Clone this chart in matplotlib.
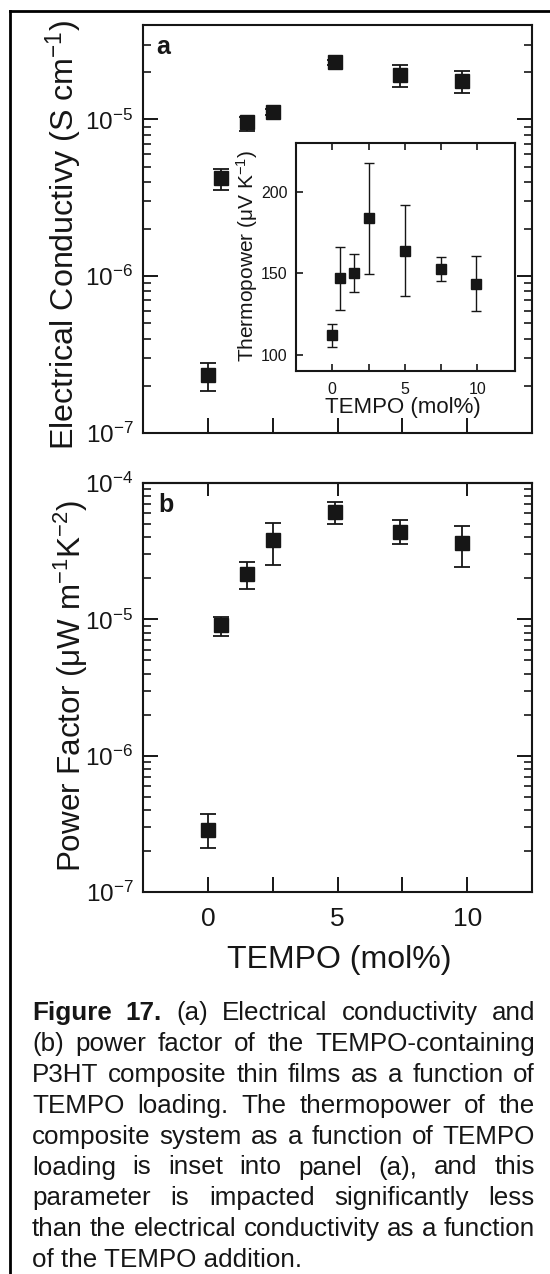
import matplotlib
matplotlib.use("Agg")
import matplotlib.pyplot as plt
from matplotlib.lines import Line2D
from matplotlib.ticker import LogLocator, FixedLocator, NullFormatter, LogFormatterMathtext, NullLocator, FixedFormatter

plt.rcParams['font.family'] = ['Liberation Sans', 'DejaVu Sans']
plt.rcParams['mathtext.fontset'] = 'custom'
plt.rcParams['mathtext.rm'] = 'Liberation Sans'
plt.rcParams['mathtext.it'] = 'Liberation Sans:italic'
plt.rcParams['mathtext.bf'] = 'Liberation Sans:bold'
plt.rcParams['axes.unicode_minus'] = False

# ---------------- data ----------------
tempo = [0, 0.5, 1.5, 2.5, 4.9, 7.4, 9.8]

cond = [2.35e-7, 4.26e-6, 9.57e-6, 1.12e-5, 2.31e-5, 1.91e-5, 1.75e-5]
cond_hi = [2.80e-7, 4.86e-6, 1.03e-5, 1.17e-5, 2.40e-5, 2.21e-5, 2.03e-5]
cond_lo = [1.86e-7, 3.57e-6, 8.40e-6, 1.07e-5, 2.22e-5, 1.60e-5, 1.47e-5]

pf = [2.84e-7, 9.08e-6, 2.15e-5, 3.82e-5, 6.12e-5, 4.37e-5, 3.63e-5]
pf_hi = [3.72e-7, 1.04e-5, 2.63e-5, 5.09e-5, 7.26e-5, 5.35e-5, 4.84e-5]
pf_lo = [2.10e-7, 7.55e-6, 1.67e-5, 2.51e-5, 5.00e-5, 3.56e-5, 2.42e-5]

tempo_inset = [0, 0.5, 1.5, 2.5, 5.0, 7.5, 9.9]
thermo = [111.9, 146.8, 150.4, 184.0, 163.9, 152.9, 143.7]
thermo_hi = [118.6, 166.3, 162.0, 217.7, 192.0, 160.2, 160.8]
thermo_lo = [104.5, 127.2, 138.8, 149.8, 135.8, 145.5, 126.6]

x_ticks = [0, 2.5, 5, 7.5, 10]
x_ticklabels = ["0", "", "5", "", "10"]
inset_yticks = [100, 150, 200]

caption_bold = ["Figure", "17."]
caption_lines = [
    "(a) Electrical conductivity and",
    "(b) power factor of the TEMPO-containing",
    "P3HT composite thin films as a function of",
    "TEMPO loading. The thermopower of the",
    "composite system as a function of TEMPO",
    "loading is inset into panel (a), and this",
    "parameter is impacted significantly less",
    "than the electrical conductivity as a function",
    "of the TEMPO addition.",
]

# ---------------- figure ----------------
W, H = 550, 1274
fig = plt.figure(figsize=(W / 100, H / 100), dpi=100)
fig.patch.set_facecolor('white')
INK = '#161616'


def fbox(l, t, r, b):
    return [l / W, 1 - b / H, (r - l) / W, (b - t) / H]


def err(v, hi, lo):
    return [[a - c for a, c in zip(v, lo)], [c - a for a, c in zip(v, hi)]]


def style_log_axis(ax, ylim):
    ax.set_yscale('log')
    ax.set_ylim(*ylim)
    ax.set_xlim(-2.5, 12.5)
    ax.yaxis.set_major_locator(LogLocator(base=10, numticks=20))
    ax.yaxis.set_minor_locator(LogLocator(base=10, subs=range(2, 10), numticks=20))
    ax.yaxis.set_major_formatter(LogFormatterMathtext())
    ax.yaxis.set_minor_formatter(NullFormatter())
    ax.xaxis.set_major_locator(FixedLocator(x_ticks))
    ax.xaxis.set_minor_locator(NullLocator())
    for s in ax.spines.values():
        s.set_linewidth(1.5)
        s.set_color(INK)
    ax.tick_params(axis='y', which='major', direction='in', left=True, right=True,
                   length=11, width=1.4, labelsize=17.5, pad=7, colors=INK)
    ax.tick_params(axis='y', which='minor', direction='in', left=True, right=True,
                   length=6, width=1.2, colors=INK)
    ax.tick_params(axis='x', which='major', direction='in', bottom=True, top=False,
                   length=11, width=1.4, labelsize=19, pad=11, colors=INK)


mk = dict(fmt='s', color=INK, ecolor=INK, markersize=10, capsize=5.5,
          elinewidth=1.3, capthick=1.3, zorder=3)

# panel a
axa = fig.add_axes(fbox(143, 25, 532, 433))
axa.errorbar(tempo, cond, yerr=err(cond, cond_hi, cond_lo), **mk)
style_log_axis(axa, (1e-7, 4e-5))
axa.set_xticklabels([])
axa.text(0.035, 0.93, "a", transform=axa.transAxes, fontsize=18, fontweight='bold',
         ha='left', va='baseline', color=INK)

# panel b
axb = fig.add_axes(fbox(143, 483, 532, 892))
axb.errorbar(tempo, pf, yerr=err(pf, pf_hi, pf_lo), **mk)
style_log_axis(axb, (1e-7, 1e-4))
axb.xaxis.set_major_formatter(FixedFormatter(x_ticklabels))
axb.text(0.04, 0.93, "b", transform=axb.transAxes, fontsize=18, fontweight='bold',
         ha='left', va='baseline', color=INK)
# top ticks of panel b at 0, 5, 10
axb_top = axb.secondary_xaxis('top')
axb_top.set_xticks([0, 5, 10])
axb_top.set_xticklabels([])
axb_top.tick_params(direction='in', length=9, width=1.4, colors=INK)
axb_top.spines['top'].set_linewidth(1.5)

# inset
axi = fig.add_axes(fbox(296, 143, 515, 371))
axi.errorbar(tempo_inset, thermo, yerr=err(thermo, thermo_hi, thermo_lo), fmt='s',
             color=INK, ecolor=INK, markersize=6.5, capsize=3.3, elinewidth=1.0,
             capthick=1.0, zorder=3)
axi.set_xlim(-2.5, 12.6)
axi.set_ylim(90, 230)
axi.set_xticks(x_ticks)
axi.set_xticklabels(x_ticklabels)
axi.set_yticks(inset_yticks)
for s in axi.spines.values():
    s.set_linewidth(1.5)
    s.set_color(INK)
axi.tick_params(axis='both', direction='in', length=5, width=1.2, labelsize=11.5,
                colors=INK, top=True, bottom=True, left=True, right=False)
axi.tick_params(axis='x', pad=8)
axi.tick_params(axis='y', pad=6)
fig.text(403 / W, 1 - 413 / H, "TEMPO (mol%)", fontsize=16, ha='center', va='baseline',
         color=INK)
fig.text(254 / W, 1 - 256 / H, "Thermopower (\u03bcV K$^{-1}$)", fontsize=15,
         rotation=90, rotation_mode='anchor', ha='center', va='baseline', color=INK)

# main axis labels
fig.text(74 / W, 1 - 235 / H, "Electrical Conductivy (S cm$^{-1}$)", fontsize=23.2,
         rotation=90, rotation_mode='anchor', ha='center', va='baseline', color=INK)
fig.text(81 / W, 1 - 686 / H, "Power Factor (\u03bcW m$^{-1}$K$^{-2}$)", fontsize=22.6,
         rotation=90, rotation_mode='anchor', ha='center', va='baseline', color=INK)
fig.text(339 / W, 1 - 968 / H, "TEMPO (mol%)", fontsize=23, ha='center', va='baseline',
         color=INK)

# outer frame
fig.add_artist(Line2D([10 / W, 10 / W], [0, 1 - 11 / H], transform=fig.transFigure,
                      color='black', lw=2))
fig.add_artist(Line2D([10 / W, 1], [1 - 11 / H, 1 - 11 / H], transform=fig.transFigure,
                      color='black', lw=2))

# caption (justified)
renderer = fig.canvas.get_renderer()
CAP_FS = 18.7
LEFT, RIGHT = 32, 535
BASE0, STEP = 1020, 30.9


def word_width(w, bold=False):
    t = fig.text(0, 0, w, fontsize=CAP_FS, fontweight='bold' if bold else 'normal')
    wd = t.get_window_extent(renderer).width
    t.remove()
    return wd


for i, line in enumerate(caption_lines):
    yb = 1 - (BASE0 + i * STEP) / H
    words = [(w, False) for w in line.split()]
    if i == 0:
        words = [(w, True) for w in caption_bold] + words
    if i == len(caption_lines) - 1:
        fig.text(LEFT / W, yb, line, fontsize=CAP_FS, ha='left', va='baseline', color=INK)
        continue
    widths = [word_width(w, b) for w, b in words]
    gap = (RIGHT - LEFT - sum(widths)) / (len(words) - 1)
    x = LEFT
    for (w, b), wd in zip(words, widths):
        fig.text(x / W, yb, w, fontsize=CAP_FS, fontweight='bold' if b else 'normal',
                 ha='left', va='baseline', color=INK)
        x += wd + gap

fig.savefig("out.png", dpi=100)
